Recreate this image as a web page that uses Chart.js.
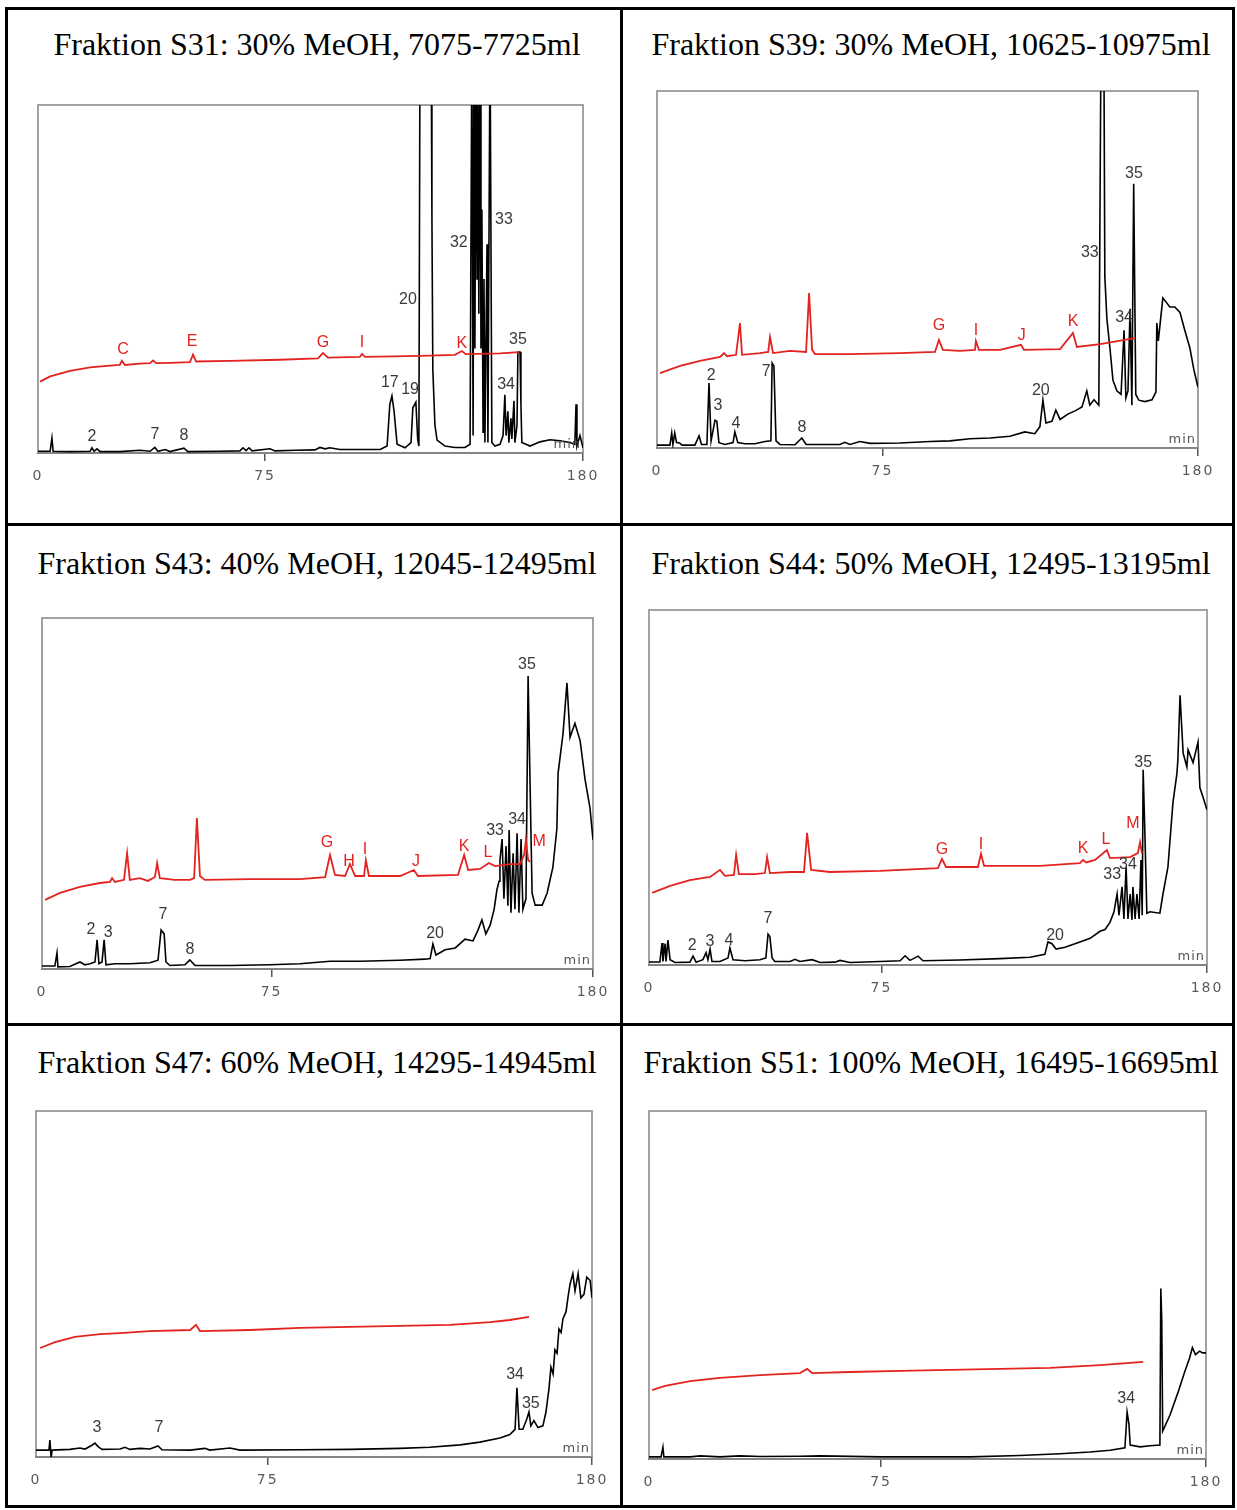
<!DOCTYPE html>
<html>
<head>
<meta charset="utf-8">
<script src="https://cdn.jsdelivr.net/npm/chart.js@4.4.1/dist/chart.umd.min.js"></script>
<style>
  body { margin: 0; background: #fff; }
  #page { position: relative; width: 1237px; height: 1510px; overflow: hidden; }
  .rule { position: absolute; background: #000; }
  .title { position: absolute; width: 620px; height: 40px; line-height: 40px; text-align: center;
           font-family: "Liberation Serif", "Times New Roman", serif; font-size: 32px; color: #000; white-space: pre; }
  canvas { position: absolute; }
</style>
</head>
<body>
<div id="page"></div>
<script>
// x axis: retention time in min, y axis: relative absorbance (0-100 = full frame)
const timeTicks = [0, 75, 180];

const titles = [
  'Fraktion S31: 30% MeOH, 7075-7725ml',
  'Fraktion S39: 30% MeOH, 10625-10975ml',
  'Fraktion S43: 40% MeOH, 12045-12495ml',
  'Fraktion S44: 50% MeOH, 12495-13195ml',
  'Fraktion S47: 60% MeOH, 14295-14945ml',
  'Fraktion S51: 100% MeOH, 16495-16695ml'
];

// --- S31 ---
const s31Black = [[0,0.5],[4,0.5],[4.6,4.3],[5,0.5],[10.6,0.4],[17.2,0.5],[17.8,1.5],[18.5,0.5],[19.5,1.2],[20.5,0.4],[27,0.4],[33.7,0.8],[37,0.5],[38.6,1.6],[39.6,0.5],[42,1.0],[43.6,0.4],[48.2,1.4],[49.5,0.4],[60,0.5],[66.7,0.6],[67.7,1.5],[68.7,0.7],[69.7,1.5],[70.7,0.6],[76.6,1.2],[78.3,0.6],[85,0.8],[91.5,0.9],[93.1,1.6],[94.8,1.2],[96.4,1.5],[99.7,1.0],[106,1.0],[113,1.0],[115.3,2.0],[116.2,14],[116.9,16.4],[117.6,12],[118.6,2.5],[121.2,1.5],[123.2,3],[123.8,13],[124.8,14.6],[125.4,4],[125.8,2],[126.2,130],[129.8,130],[130.1,68],[130.4,24],[131.1,8],[131.8,3.7],[134.4,2.0],[137.7,1.6],[141,1.6],[142.7,2.5],[143.3,120],[143.7,5],[144,120],[144.3,30],[144.7,120],[145,50],[145.3,110],[145.6,40],[146,120],[146.3,30],[146.6,70],[147,6],[147.3,50],[147.6,3],[148.3,60],[148.6,3],[149.3,120],[149.6,120],[149.9,3],[150.9,2],[152.6,2.5],[153.6,5],[154.2,16.7],[154.6,5],[155.2,12],[155.5,3],[156.2,10],[156.5,4],[157.2,15],[157.5,3],[158.2,8],[158.5,29],[159.2,29],[159.5,14],[159.8,3],[162.5,2],[165.8,3.2],[169.1,3.8],[172.4,3.5],[175.7,3.0],[177.3,2.5],[177.7,14],[178,2],[179,5],[180,1.5]];
const s31Red = [[0.7,20.5],[4,22.0],[10.6,23.6],[17.2,24.6],[23.8,25.1],[27,25.3],[27.7,26.5],[28.7,25.3],[33.7,25.7],[37,25.8],[38,26.6],[39,25.8],[43.6,25.9],[50.2,26.1],[51.2,28.3],[52.2,26.3],[63.4,26.5],[79.9,26.8],[92.5,27.2],[94.1,28.7],[95.8,27.4],[106.3,27.6],[107,28.5],[108,27.6],[126.2,27.9],[137.7,28.2],[140,29.3],[141.3,28.4],[152.6,28.6],[158.9,29.0]];
const s31Peaks = [[17.8,4.6,'2'],[38.6,5.2,'7'],[48.2,4.9,'8'],[116.2,20.1,'17'],[122.9,18.1,'19'],[122.2,44,'20'],[139,60.6,'32'],[153.9,67,'33'],[154.6,19.8,'34'],[158.5,32.5,'35']];
const s31Marks = [[28.1,29.6,'C'],[50.9,31.9,'E'],[94.1,31.6,'G'],[107,31.6,'I'],[140,31.3,'K']];

// --- S39 ---
const s39Black = [[0,0.8],[4.3,0.8],[4.9,4.2],[5.3,1.0],[5.9,4.2],[6.5,1.5],[7.5,1.4],[8.3,0.8],[12.6,0.8],[14,3.4],[14.8,1.0],[16.6,1.0],[17.3,18.2],[18,2],[19.3,7.8],[19.9,7.5],[20.6,1.5],[22.6,1.0],[25.3,1.5],[25.9,4.5],[26.9,1.5],[29.3,1.2],[32.6,1.2],[35.9,1.8],[37.9,2],[38.3,23.8],[38.9,23],[39.6,2],[40.9,1.0],[45.9,0.9],[48.2,2.8],[49.6,1.0],[60.9,1.0],[62.5,1.6],[64.2,1.0],[67.5,1.8],[70.9,1.3],[80.8,1.4],[90.8,1.8],[97.5,2.0],[104.1,2.6],[110.8,2.8],[117.4,3.3],[122.4,4.5],[125.7,4.0],[127.4,6],[128.4,13.4],[129.4,7],[131.4,7.5],[132.7,10.6],[134.1,8],[136.7,9.5],[139.1,10.4],[141.4,11.5],[143,16],[144,12],[145.4,13.5],[147,12],[147.7,110],[148.7,110],[149,48],[149.7,36],[150.7,28],[151.7,19],[153,16],[154.4,15],[155.4,33],[156,14],[156.7,16],[157.4,39],[158,12],[158.6,74],[159.3,15],[160.3,13.4],[162.3,13],[164.7,13.5],[166,15.7],[166.3,35],[166.8,30],[168.3,42],[169.3,41],[170.6,39.5],[172.3,39.5],[174,38],[175.6,33],[177.3,28],[178.6,22],[180,17]];
const s39Red = [[1,21],[7.7,23],[14.3,24.4],[21,25.5],[22.3,26.6],[23.3,25.7],[26.3,26.1],[27.6,35],[28.3,26.1],[34.3,26.6],[37,26.9],[37.6,31.1],[38.6,26.6],[44.2,27.2],[49.6,26.9],[50.6,43.4],[51.6,27.5],[52.6,26.3],[64.2,26.3],[80.8,26.6],[92.5,26.9],[93.8,30.3],[95.1,27.5],[100.8,27.2],[105.8,27.5],[106.1,30],[107.1,27.5],[114.1,27.5],[121.1,28.9],[122.1,27.5],[134.1,27.7],[138.4,32.2],[139.7,28.3],[147.4,29.1],[159,30.8]];
const s39Peaks = [[18,20.2,'2'],[20.3,12,'3'],[26.3,6.7,'4'],[36.3,21.3,'7'],[48.2,5.6,'8'],[127.7,16.2,'20'],[144,54.6,'33'],[155.4,36.4,'34'],[158.7,77,'35']];
const s39Marks = [[93.8,34.2,'G'],[106.1,33,'I'],[121.4,31.4,'J'],[138.4,35.3,'K']];

// --- S43 ---
const s43Black = [[0,0.85],[4.2,0.85],[4.9,4.6],[5.2,0.6],[9.1,0.7],[12.4,2],[14,1.2],[15.7,1.5],[17.3,2],[18,8.3],[18.6,1.5],[19.6,2],[20.3,8.3],[20.9,1.2],[23.8,1.5],[28.7,1.5],[35.3,1.8],[37.9,2.5],[38.9,11.1],[39.9,10],[40.5,2],[41.8,1.0],[46.7,1.2],[48.3,2.6],[50,1.0],[61.4,1.0],[74.5,1.2],[84.3,1.5],[94.1,2.2],[103.9,2.2],[117,2.5],[125.1,2.8],[126.8,3],[127.7,7.1],[128.7,4],[131.7,5.5],[135,6],[138.2,8.5],[140.8,8],[142.4,11],[143.7,14],[145,10],[146.4,12.5],[147.7,17],[148.6,22.5],[149.3,25],[149.6,31],[150.3,37],[150.9,20],[151.6,35],[152.2,18],[152.6,39.6],[153.2,16],[153.9,33],[154.5,17],[155.2,38.7],[155.8,16],[156.5,37],[157.1,17],[158.1,20],[158.8,83.5],[159.4,54.7],[160.1,21.6],[161.1,18.2],[163.4,18.2],[165,21.6],[166.9,29],[168.2,40],[168.6,55.8],[170.2,67],[171.5,81.5],[172.5,66],[174.1,70],[175.8,65],[177.4,54],[179,46],[180,36.8]];
const s43Red = [[1,19.7],[5.9,21.7],[12.4,23.4],[18.9,24.5],[22.2,24.8],[22.9,25.9],[23.8,24.8],[26.8,25.4],[27.8,33],[28.7,25.4],[32,25.9],[34.6,25.1],[36.9,26.2],[37.6,30.2],[38.5,25.9],[43.4,25.4],[48.3,25.4],[49.7,25.9],[50.6,43],[51.6,26.5],[53.2,25.4],[67.9,25.6],[84.3,25.6],[92.5,26.2],[94.1,32.5],[95.7,26.8],[99,26.5],[100.6,29.9],[102.3,26.5],[105.2,26.5],[105.8,31],[106.8,26.5],[117,26.5],[121.5,28.2],[122.8,26.5],[135.9,26.8],[137.9,32.5],[139.2,28.2],[143.1,28.5],[146,30.2],[148,29.3],[152.9,29.9],[156.2,29.9],[157.5,32.5],[158.1,36.8],[158.8,31.1],[159.4,30.5]];
const s43Peaks = [[16,11.1,'2'],[21.6,10.5,'3'],[39.5,15.4,'7'],[48.3,5.4,'8'],[128.4,10,'20'],[148,39.3,'33'],[155.2,42.7,'34'],[158.4,86.6,'35']];
const s43Marks = [[93.1,35.9,'G'],[100.3,30.5,'H'],[105.5,33.9,'I'],[122.2,30.5,'J'],[137.9,35,'K'],[145.7,33.3,'L'],[162.4,36.2,'M']];

// --- S44 ---
const s44Black = [[0,0.85],[3.5,0.85],[4.2,6.2],[4.5,1],[5.2,6],[5.5,1],[6.1,7],[6.8,1.5],[8.4,0.7],[13.2,0.8],[14.2,2.5],[15.2,0.8],[17.4,1.5],[18.4,3.5],[19,1.5],[19.7,4.5],[20.3,1.0],[22.9,1.0],[25.5,2],[26.1,4.8],[27.1,1.5],[31,1.2],[35.8,1.5],[37.7,2],[38.4,8.7],[39,8],[39.7,2],[40.6,1.0],[45.5,1.0],[47.1,1.6],[48.7,1.0],[52.6,1.5],[55.2,0.7],[60,0.8],[61.6,1.3],[64.8,0.7],[74.5,1.0],[81,1.2],[82.6,2.6],[84.2,1.3],[86.8,2.5],[88.4,1.2],[100.3,1.4],[113.2,1.8],[122.9,2.2],[127.7,3],[128.7,6.5],[130,6],[131.3,4.5],[134.2,5],[139,6.5],[142.3,7.5],[145.5,9.5],[147.1,10],[148.7,12],[150,15],[151,20],[151.6,14],[152.6,22],[153.2,13],[153.9,27.6],[154.5,13],[155.2,20],[155.8,12.7],[156.1,22],[156.8,13],[157.4,20],[158.1,13],[158.7,29.6],[159.1,14],[159.4,55],[160,35.8],[160.6,14.6],[161.6,15],[164.8,14.6],[165.8,20],[167.4,27.6],[169,45.6],[170.3,54],[170.6,57.7],[171.3,76],[172.3,59.7],[173.5,55.8],[173.9,60.6],[175.5,57],[177.1,62.8],[177.7,50],[178.7,47.3],[180,43.7]];
const s44Red = [[1,20.3],[6.8,22.3],[13.2,23.9],[19.7,24.8],[22.9,26.8],[24.5,25.1],[27.4,25.4],[28.1,31],[29,25.6],[34.2,25.6],[37.4,25.9],[38.1,30.4],[39,25.9],[45.5,26.2],[50,26.2],[51,37.2],[52.3,26.8],[58.4,26.2],[74.5,26.5],[93.2,27.3],[94.5,29.9],[95.8,27.6],[106.1,27.6],[107.1,31.3],[108.1,27.9],[126.1,27.9],[139,28.7],[140,29.6],[141,28.9],[143.9,29.6],[147.7,32.4],[148.7,30.1],[155.2,30.4],[157.7,31.5],[158.4,34.6],[159,31.5]];
const s44Peaks = [[13.9,5.4,'2'],[19.7,6.5,'3'],[25.8,7,'4'],[38.4,13.2,'7'],[131,8.2,'20'],[149.4,25.4,'33'],[154.5,28.2,'34'],[159.4,56.9,'35']];
const s44Marks = [[94.5,32.4,'G'],[107.1,33.8,'I'],[140,32.7,'K'],[147.4,35.2,'L'],[156.1,39.7,'M']];

// --- S47 ---
const s47Black = [[0,2],[4.2,2],[4.5,4.9],[4.9,-0.2],[5.2,2],[11,2.2],[14.2,2.6],[15.9,2.3],[18.1,3.4],[19.1,4.0],[20.1,3.0],[21.4,2.2],[27.2,2.3],[28.8,2.8],[30.4,2.2],[33.7,2.5],[36.9,2.3],[39.5,3.2],[40.8,2.1],[49.9,2.0],[54.7,2.5],[56.3,2.0],[62.8,2.6],[66,2.0],[85.5,2.1],[101.7,2.2],[117.8,2.5],[127.5,2.8],[137.3,3.5],[143.7,4.3],[150.2,5.5],[153.4,6.5],[155.1,8],[155.7,20],[156.4,8],[157.6,8],[158.9,11],[159.6,13],[160.2,9],[161.2,10.5],[162.5,8.5],[164.1,9],[165.1,13],[166.1,20],[166.7,26],[167.4,24],[168,31],[168.7,30],[169.3,37],[170,36],[170.6,40],[171.6,42],[172.2,46],[172.9,50],[173.8,53],[174.5,48],[175.5,53],[176.4,46],[177.4,47],[178.3,52],[179.4,51],[180,46]];
const s47Red = [[1.3,31.5],[6.2,33.2],[12.6,34.7],[20.7,35.5],[27.2,35.8],[36.9,36.4],[49.9,36.7],[51.8,38.2],[53.1,36.4],[69.3,36.7],[85.5,37.3],[101.7,37.6],[117.8,37.9],[134,38.2],[147,39.0],[153.4,39.6],[159.6,40.5]];
const s47Peaks = [[19.7,8.4,'3'],[39.8,8.4,'7'],[155.1,23.7,'34'],[160.2,15.3,'35']];
const s47Marks = [];

// --- S51 ---
const s51Black = [[0,0.6],[3.9,0.6],[4.5,3.4],[4.8,0.6],[13.3,0.6],[16.5,0.9],[22.9,0.6],[29.4,0.9],[35.9,0.7],[48.8,0.8],[55.3,0.9],[74.7,0.6],[103.8,0.6],[119.9,1.0],[132.8,1.5],[142.5,2.0],[149,2.5],[153.8,3.2],[154.5,13.5],[155.1,10],[155.5,4],[158.7,3.5],[161.9,3.8],[165.1,4],[165.4,49],[165.7,40],[166,8],[168.3,12.5],[170.9,19],[173.1,25],[174.7,29],[175.6,32],[176.6,30],[177.9,31],[178.9,30.5],[180,30.5]];
const s51Red = [[1,19.8],[5.2,21],[13.3,22.4],[22.9,23.3],[35.9,24.1],[48.8,24.7],[51.1,25.9],[52.7,24.7],[65,25],[81.1,25.3],[113.4,25.9],[129.6,26.2],[145.8,27],[159.7,27.9]];
const s51Peaks = [[154.2,17.5,'34']];
const s51Marks = [];

const traces = [
  { black: s31Black, red: s31Red, peaks: s31Peaks, marks: s31Marks },
  { black: s39Black, red: s39Red, peaks: s39Peaks, marks: s39Marks },
  { black: s43Black, red: s43Red, peaks: s43Peaks, marks: s43Marks },
  { black: s44Black, red: s44Red, peaks: s44Peaks, marks: s44Marks },
  { black: s47Black, red: s47Red, peaks: s47Peaks, marks: s47Marks },
  { black: s51Black, red: s51Red, peaks: s51Peaks, marks: s51Marks }
];

// plot frame of each panel on the page: left, top, right, bottom (px), title centre
const panels = [
  { l: 38,  t: 105,  r: 583,  b: 453,  tx: 317, ty: 44 },
  { l: 657, t: 91,   r: 1198, b: 448,  tx: 931, ty: 44 },
  { l: 42,  t: 618,  r: 593,  b: 969,  tx: 317, ty: 563 },
  { l: 649, t: 610,  r: 1207, b: 965,  tx: 931, ty: 563 },
  { l: 36,  t: 1111, r: 592,  b: 1457, tx: 317, ty: 1062 },
  { l: 649, t: 1111, r: 1206, b: 1459, tx: 931, ty: 1062 }
];

const page = document.getElementById('page');

// table rules
function rule(l, t, w, h) {
  const d = document.createElement('div');
  d.className = 'rule';
  Object.assign(d.style, { left: l + 'px', top: t + 'px', width: w + 'px', height: h + 'px' });
  page.appendChild(d);
}
rule(5, 7, 1230, 3);
rule(5, 1505, 1230, 3);
rule(5, 7, 3, 1501);
rule(1232, 7, 3, 1501);
rule(620, 7, 3, 1501);
rule(5, 523, 1230, 3);
rule(5, 1023, 1230, 3);

const PAD_L = 20, PAD_T = 15, PAD_R = 25, AXIS_H = 35;

const framePlugin = {
  id: 'frame',
  beforeDraw(chart) {
    // wide, spaced digits on the time axis like the plotter font
    chart.ctx.letterSpacing = '2px';
  },
  beforeDatasetsDraw(chart) {
    const { ctx, chartArea: a } = chart;
    ctx.letterSpacing = '0px';
    ctx.save();
    ctx.strokeStyle = '#8c8c8c';
    ctx.lineWidth = 1.6;
    ctx.strokeRect(a.left, a.top, a.right - a.left, a.bottom - a.top);
    ctx.restore();
  },
  afterDatasetsDraw(chart, args, opts) {
    const { ctx, chartArea: a, scales: { x, y } } = chart;
    ctx.save();
    ctx.textAlign = 'center';
    ctx.textBaseline = 'middle';
    ctx.font = '16px "Liberation Sans", Arial, sans-serif';
    ctx.fillStyle = '#3a3a3a';
    opts.peaks.forEach(([t, v, txt]) => ctx.fillText(txt, x.getPixelForValue(t), y.getPixelForValue(v)));
    ctx.fillStyle = '#e3231f';
    opts.marks.forEach(([t, v, txt]) => ctx.fillText(txt, x.getPixelForValue(t), y.getPixelForValue(v)));
    ctx.font = '13px "DejaVu Sans", sans-serif';
    ctx.fillStyle = '#555';
    ctx.textAlign = 'right';
    ctx.letterSpacing = '1px';
    ctx.fillText('min', a.right - 2, a.bottom - 8);
    ctx.restore();
  }
};

panels.forEach((p, i) => {
  const tr = traces[i];

  const title = document.createElement('div');
  title.className = 'title';
  title.style.left = (p.tx - 310) + 'px';
  title.style.top = (p.ty - 20) + 'px';
  title.textContent = titles[i];
  page.appendChild(title);

  const canvas = document.createElement('canvas');
  const w = p.r - p.l + PAD_L + PAD_R;
  const h = p.b - p.t + PAD_T + AXIS_H;
  canvas.width = w;
  canvas.height = h;
  canvas.style.left = (p.l - PAD_L) + 'px';
  canvas.style.top = (p.t - PAD_T) + 'px';
  page.appendChild(canvas);

  new Chart(canvas.getContext('2d'), {
    type: 'scatter',
    data: {
      datasets: [
        {
          data: tr.red.map(([t, v]) => ({ x: t, y: v })),
          showLine: true, borderColor: '#e3231f', borderWidth: 1.8, pointRadius: 0
        },
        {
          data: tr.black.map(([t, v]) => ({ x: t, y: v })),
          showLine: true, borderColor: '#000', borderWidth: 1.6, pointRadius: 0
        }
      ]
    },
    options: {
      responsive: false,
      animation: false,
      devicePixelRatio: 1,
      layout: { padding: { left: PAD_L, top: PAD_T, right: PAD_R, bottom: 0 } },
      plugins: {
        legend: { display: false },
        tooltip: { enabled: false },
        frame: { peaks: tr.peaks, marks: tr.marks }
      },
      scales: {
        x: {
          type: 'linear', min: 0, max: 180,
          border: { display: true, color: '#666', width: 2 },
          grid: {
            drawOnChartArea: false, drawTicks: true, tickLength: 8, lineWidth: 1.5,
            color: ctx => (ctx.tick && ctx.tick.value === 0) ? 'rgba(0,0,0,0)' : '#555'
          },
          ticks: {
            font: { family: '"DejaVu Sans", sans-serif', size: 14 },
            color: '#5a5a5a', padding: 7, maxRotation: 0, autoSkip: false
          },
          afterBuildTicks: s => { s.ticks = timeTicks.map(v => ({ value: v })); },
          afterFit: s => { s.height = AXIS_H; }
        },
        y: { display: false, min: 0, max: 100 }
      }
    },
    plugins: [framePlugin]
  });
});
</script>
</body>
</html>
